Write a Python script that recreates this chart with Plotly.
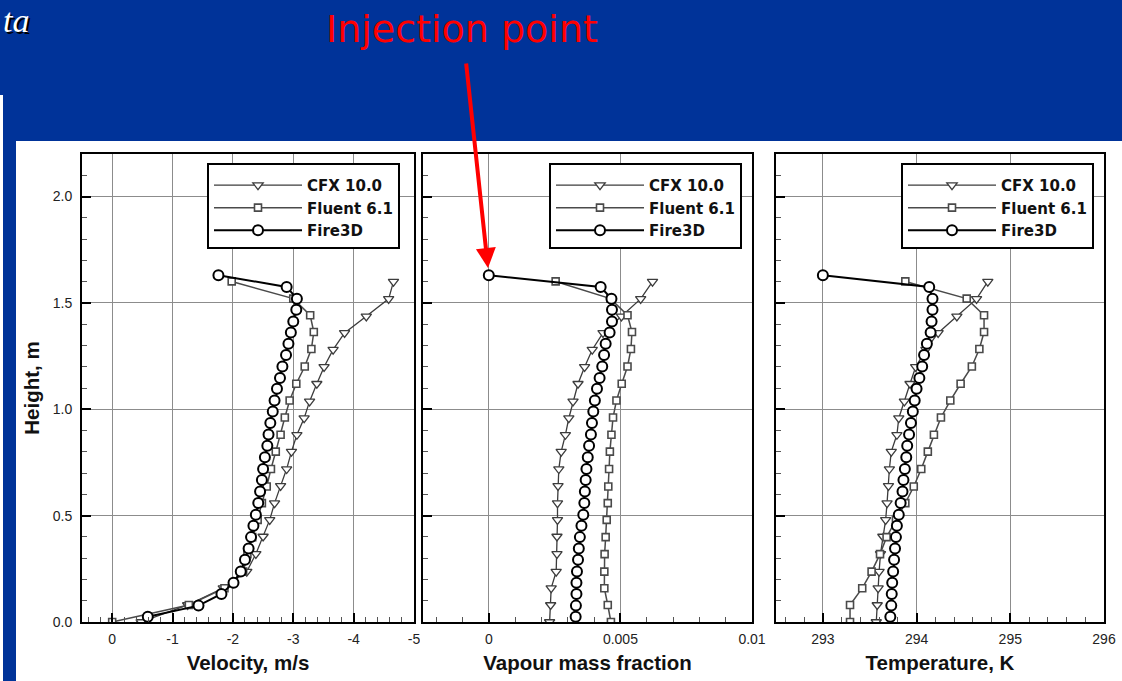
import plotly.graph_objects as go

# ---------------- data ----------------
SERIES = ["CFX 10.0", "Fluent 6.1", "Fire3D"]

H_CFX = [1.600, 1.519, 1.437, 1.359, 1.280, 1.199, 1.120, 1.037, 0.958, 0.880, 0.801,
         0.719, 0.640, 0.559, 0.480, 0.402, 0.320, 0.237, 0.159, 0.080, 0.000]
H_FLUENT = [1.601, 1.520, 1.442, 1.363, 1.283, 1.201, 1.120, 1.041, 0.961, 0.880, 0.801,
            0.719, 0.637, 0.559, 0.480, 0.399, 0.319, 0.237, 0.159, 0.080, 0.000]
H_FIRE = [1.630, 1.575, 1.520, 1.468, 1.413, 1.361, 1.308, 1.255, 1.201, 1.147, 1.096,
          1.041, 0.990, 0.935, 0.881, 0.828, 0.775, 0.719, 0.667, 0.613, 0.559, 0.504,
          0.452, 0.399, 0.345, 0.293, 0.237, 0.185, 0.132, 0.077, 0.025]

VEL_CFX = [-4.66, -4.58, -4.21, -3.85, -3.66, -3.51, -3.39, -3.27, -3.18, -3.06, -2.97,
           -2.89, -2.79, -2.69, -2.61, -2.50, -2.38, -2.23, -1.84, -1.25, -0.48]
VEL_FLUENT = [-1.98, -3.00, -3.28, -3.34, -3.30, -3.19, -3.05, -2.94, -2.86, -2.79, -2.71,
              -2.63, -2.56, -2.48, -2.41, -2.32, -2.24, -2.17, -1.86, -1.27, 0.00]
VEL_FIRE = [-1.76, -2.89, -3.06, -3.05, -3.00, -2.96, -2.92, -2.88, -2.82, -2.78, -2.73,
            -2.69, -2.66, -2.62, -2.59, -2.57, -2.53, -2.50, -2.48, -2.45, -2.42, -2.38,
            -2.34, -2.30, -2.26, -2.20, -2.13, -2.01, -1.81, -1.43, -0.59]

VMF_CFX = [0.00622, 0.00577, 0.00504, 0.00434, 0.00393, 0.00364, 0.00339, 0.00320, 0.00304,
           0.00291, 0.00275, 0.00266, 0.00263, 0.00261, 0.00261, 0.00259, 0.00259, 0.00256,
           0.00237, 0.00235, 0.00231]
VMF_FLUENT = [0.00254, 0.00462, 0.00527, 0.00544, 0.00540, 0.00527, 0.00505, 0.00485, 0.00472,
              0.00466, 0.00460, 0.00457, 0.00454, 0.00452, 0.00448, 0.00444, 0.00440, 0.00439,
              0.00439, 0.00452, 0.00464]
VMF_FIRE = [0.00000, 0.00425, 0.00466, 0.00468, 0.00468, 0.00459, 0.00444, 0.00438, 0.00431,
            0.00421, 0.00411, 0.00403, 0.00397, 0.00392, 0.00388, 0.00381, 0.00376, 0.00371,
            0.00368, 0.00365, 0.00363, 0.00359, 0.00352, 0.00346, 0.00342, 0.00339, 0.00335,
            0.00333, 0.00333, 0.00331, 0.00330]

TEMP_CFX = [294.76, 294.64, 294.43, 294.23, 294.10, 293.99, 293.93, 293.87, 293.81, 293.79,
            293.73, 293.71, 293.70, 293.685, 293.67, 293.64, 293.615, 293.60, 293.59, 293.58,
            293.57]
TEMP_FLUENT = [293.88, 294.535, 294.72, 294.72, 294.67, 294.59, 294.47, 294.36, 294.26, 294.185,
               294.12, 294.05, 293.97, 293.88, 293.78, 293.68, 293.61, 293.52, 293.42, 293.29,
               293.29]
TEMP_FIRE = [293.00, 294.135, 294.17, 294.17, 294.16, 294.15, 294.11, 294.08, 294.06, 294.03,
             294.00, 293.98, 293.96, 293.94, 293.92, 293.90, 293.89, 293.875, 293.86, 293.85,
             293.83, 293.81, 293.79, 293.78, 293.77, 293.76, 293.75, 293.74, 293.735, 293.73,
             293.72]

VEL_TICKS = [0, -1, -2, -3, -4, -5]
VEL_TICKTEXT = ["0", "-1", "-2", "-3", "-4", "-5"]
VMF_TICKS = [0, 0.005, 0.01]
VMF_TICKTEXT = ["0", "0.005", "0.01"]
TEMP_TICKS = [293, 294, 295, 296]
TEMP_TICKTEXT = ["293", "294", "295", "296"]
H_TICKS = [0.0, 0.5, 1.0, 1.5, 2.0]
H_TICKTEXT = ["0.0", "0.5", "1.0", "1.5", "2.0"]

X_TITLES = ["Velocity, m/s", "Vapour mass fraction", "Temperature, K"]
Y_TITLE = "Height, m"

# ---------------- layout helpers ----------------
W, H = 1122, 681
def px(x):
    return x / W
def py(y):
    return 1 - y / H

BLUE = "#003399"
FONT = "DejaVu Sans"
SANS = "Liberation Sans"

styles = {
    "CFX 10.0": dict(line=dict(color="#3c3c3c", width=1.3),
                     marker=dict(symbol="triangle-down", size=9, color="white",
                                 line=dict(color="#3c3c3c", width=1.3))),
    "Fluent 6.1": dict(line=dict(color="#4a4a4a", width=1.5),
                       marker=dict(symbol="square", size=7, color="white",
                                   line=dict(color="#4a4a4a", width=1.6))),
    "Fire3D": dict(line=dict(color="black", width=2),
                   marker=dict(symbol="circle", size=10, color="white",
                               line=dict(color="black", width=2))),
}

panel_data = [
    (VEL_CFX, VEL_FLUENT, VEL_FIRE),
    (VMF_CFX, VMF_FLUENT, VMF_FIRE),
    (TEMP_CFX, TEMP_FLUENT, TEMP_FIRE),
]
heights = (H_CFX, H_FLUENT, H_FIRE)

fig = go.Figure()
for i, vals in enumerate(panel_data):
    sfx = "" if i == 0 else str(i + 1)
    for name, xs, hs in zip(SERIES, vals, heights):
        st = styles[name]
        fig.add_trace(go.Scatter(
            x=xs, y=hs, name=name, mode="lines+markers",
            line=st["line"], marker=st["marker"],
            xaxis="x" + sfx, yaxis="y" + sfx,
            legend="legend" + sfx, showlegend=True,
        ))

tickfont = dict(family=SANS, size=14, color="#222222")
titlefont = dict(family=SANS, size=20.5, color="#111111", weight="bold")

def xaxis(domain, rng, tv, tt, minor_dtick, title, anchor):
    return dict(
        domain=domain, range=rng, anchor=anchor, automargin=False,
        tickmode="array", tickvals=tv, ticktext=tt,
        ticks="inside", ticklen=9, tickwidth=2, tickcolor="black",
        showline=True, linewidth=2, linecolor="black", mirror=True,
        showgrid=True, gridcolor="#8c8c8c", gridwidth=1, zeroline=False,
        minor=dict(ticks="inside", ticklen=5, tickwidth=1, tickcolor="#555555",
                   tickmode="linear", tick0=0, dtick=minor_dtick, showgrid=False),
        tickfont=tickfont, ticklabelstandoff=3,
        title=dict(text=title, font=titlefont, standoff=10),
    )

def yaxis(anchor, labels):
    d = dict(
        domain=[py(622), py(154)], range=[0, 2.2], anchor=anchor, automargin=False,
        tickmode="array", tickvals=H_TICKS, ticktext=H_TICKTEXT,
        showticklabels=labels,
        ticks="inside", ticklen=9, tickwidth=2, tickcolor="black",
        showline=True, linewidth=2, linecolor="black", mirror=True,
        showgrid=True, gridcolor="#8c8c8c", gridwidth=1, zeroline=False,
        minor=dict(ticks="inside", ticklen=5, tickwidth=1, tickcolor="#555555",
                   tickmode="linear", tick0=0, dtick=0.1, showgrid=False),
        tickfont=tickfont, ticklabelstandoff=5,
    )
    if labels:
        d["title"] = dict(text=Y_TITLE, font=titlefont, standoff=8)
    return d

legend_common = dict(
    bgcolor="white", bordercolor="black", borderwidth=2,
    font=dict(family=FONT, size=15, color="#111111", weight="bold"),
    title=dict(text="&nbsp;", font=dict(size=3)),
    itemwidth=88, xanchor="left", yanchor="top", tracegroupgap=0,
    itemclick=False, itemdoubleclick=False,
)

fig.update_layout(
    width=W, height=H, autosize=False,
    margin=dict(l=0, r=0, t=0, b=0, pad=0, autoexpand=False),
    paper_bgcolor=BLUE, plot_bgcolor="white",
    showlegend=True,
    xaxis=xaxis([px(82), px(414)], [0.5, -5], VEL_TICKS, VEL_TICKTEXT, 0.2, X_TITLES[0], "y"),
    xaxis2=xaxis([px(423), px(752)], [-0.0025, 0.01], VMF_TICKS, VMF_TICKTEXT, 0.001, X_TITLES[1], "y2"),
    xaxis3=xaxis([px(776), px(1104)], [292.5, 296], TEMP_TICKS, TEMP_TICKTEXT, 0.2, X_TITLES[2], "y3"),
    yaxis=yaxis("x", True),
    yaxis2=yaxis("x2", False),
    yaxis3=yaxis("x3", False),
    legend=dict(legend_common, x=px(207), y=py(163)),
    legend2=dict(legend_common, x=px(549), y=py(163)),
    legend3=dict(legend_common, x=px(901), y=py(163)),
    shapes=[
        # white slide content area
        dict(type="rect", xref="paper", yref="paper", x0=px(16), x1=1, y0=0, y1=py(141),
             fillcolor="white", line=dict(width=0), layer="below"),
        # thin white strip at the left edge of the slide
        dict(type="rect", xref="paper", yref="paper", x0=0, x1=px(3), y0=0, y1=py(95),
             fillcolor="white", line=dict(width=0), layer="below"),
        # clipped last velocity tick label, as in the reference
        dict(type="rect", xref="paper", yref="paper", x0=px(420), x1=px(428),
             y0=py(655), y1=py(625), fillcolor="white", line=dict(width=0), layer="above"),
    ],
    annotations=[
        # slide title fragment (shadow + text)
        dict(text="<i>ta</i>", xref="paper", yref="paper", x=px(3), y=py(2),
             xanchor="left", yanchor="top", showarrow=False,
             font=dict(family="Liberation Serif", size=34, color="black")),
        dict(text="<i>ta</i>", xref="paper", yref="paper", x=px(1), y=py(0),
             xanchor="left", yanchor="top", showarrow=False,
             font=dict(family="Liberation Serif", size=34, color="white")),
        dict(text="Injection point", xref="paper", yref="paper", x=px(462), y=py(29),
             xanchor="center", yanchor="middle", showarrow=False,
             font=dict(family=FONT, size=38, color="#ff0000")),
        dict(text="", xref="paper", yref="paper", x=px(488), y=py(268),
             ax=466 - 488, ay=62 - 268, axref="pixel", ayref="pixel",
             showarrow=True, arrowhead=2, arrowsize=1, arrowwidth=4,
             arrowcolor="#ff0000"),
    ],
)

fig.write_html("out.html", config={"displayModeBar": False},
               post_script="document.body.style.margin='0';document.body.style.overflow='hidden';")
